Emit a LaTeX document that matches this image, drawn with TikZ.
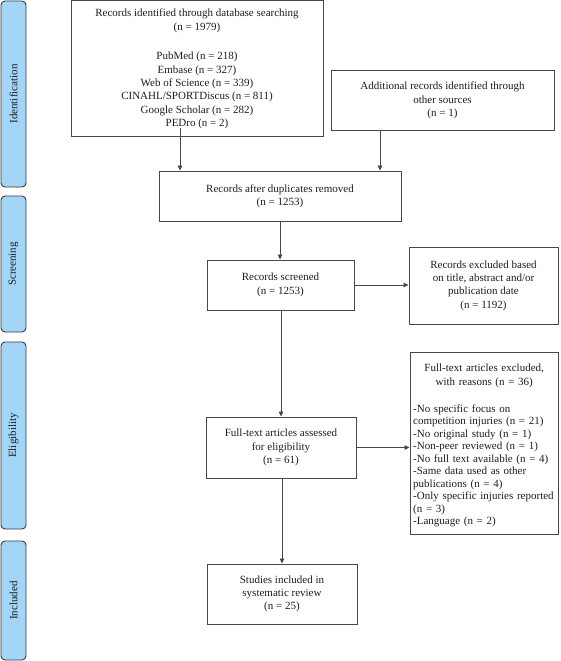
\documentclass[tikz,border=0pt]{standalone}
\usepackage{fontspec}
\setmainfont{Liberation Serif}
\usetikzlibrary{arrows.meta,calc}
\definecolor{linec}{HTML}{474747}
\definecolor{barfill}{HTML}{A3D5F7}
\definecolor{barline}{HTML}{3A3A3A}
\definecolor{textc}{HTML}{1E1E1E}
\begin{document}
\begin{tikzpicture}[x=1pt,y=-1pt,
  box/.style={draw=linec,line width=1pt,inner sep=0pt,align=center,text=textc,
    font=\fontsize{11}{13.3}\selectfont},
  listtext/.style={inner sep=0pt,align=left,text=textc,text width=142pt,
    font=\fontsize{11}{12.5}\selectfont},
  bar/.style={draw=barline,line width=0.9pt,fill=barfill,rounded corners=4pt,
    inner sep=0pt,text=textc,font=\fontsize{11}{13}\selectfont},
  arr/.style={draw=linec,line width=0.8pt,-{Triangle[length=5pt,width=4.5pt]}}]
\path[use as bounding box,fill=white] (0,0) rectangle (560,661);

% phase bars
\node[bar,rotate=90,minimum width=186pt,minimum height=25pt] (sid) at (13.5,94) {Identification};
\node[bar,rotate=90,minimum width=136pt,minimum height=25pt] (sscr) at (13.5,264) {Screening};
\node[bar,rotate=90,minimum width=187pt,minimum height=25pt] (sel) at (13.5,435.5) {Eligibility};
\node[bar,rotate=90,minimum width=119pt,minimum height=25pt] (sinc) at (13.5,600.5) {Included};

% boxes
\node[box,minimum width=252pt,minimum height=135pt] (b1) at (197,68.5)
  {Records identified through database searching\\[1.5pt](n = 1979)\\[15.8pt]
   PubMed (n = 218)\\Embase (n = 327)\\Web of Science (n = 339)\\
   CINAHL/SPORTDiscus (n = 811)\\Google Scholar (n = 282)\\PEDro (n = 2)};
\node[box,minimum width=223pt,minimum height=59pt] (b2) at (442.5,100.5)
  {Additional records identified through\\other sources\\(n = 1)};
\node[box,minimum width=242pt,minimum height=50pt] (b3) at (280,196)
  {Records after duplicates removed\\(n = 1253)};
\node[box,minimum width=147pt,minimum height=50pt] (b4) at (280.5,285)
  {Records screened\\(n = 1253)};
\node[box,minimum width=149pt,minimum height=77pt] (b5) at (483.5,285.5)
  {Records excluded based\\on title, abstract and/or\\publication date\\(n = 1192)};
\node[box,minimum width=148pt,minimum height=182pt] (b6) at (484,443) {};
\node[listtext,anchor=north west] (b6t) at (413,363.5)
  {\makebox[142pt]{Full-text articles excluded,}\\[1.5pt]
   \makebox[142pt]{with reasons (n = 36)}\\[14.5pt]
   -No specific focus on\\
   competition injuries (n = 21)\\
   -No original study (n = 1)\\
   -Non-peer reviewed (n = 1)\\
   -No full text available (n = 4)\\
   -Same data used as other\\
   publications (n = 4)\\
   -Only specific injuries reported\\
   (n = 3)\\
   -Language (n = 2)};
\node[box,minimum width=150pt,minimum height=61pt] (b7) at (281,447.5)
  {Full-text articles assessed\\for eligibility\\(n = 61)};
\node[box,minimum width=150pt,minimum height=60pt] (b8) at (282,594)
  {Studies included in\\systematic review\\(n = 25)};

% connector columns
\coordinate (c1) at (180,0);
\coordinate (c2) at (380,0);
\coordinate (c3) at (281,0);
\coordinate (c4) at (282,0);

\draw[arr] ($(b1.south -| c1)+(0,-9)$) -- (b3.north -| c1);
\draw[arr] (b2.south -| c2) -- (b3.north -| c2);
\draw[arr] (b3.south) -- (b3.south |- b4.north);
\draw[arr] (b4.east) -- (b4.east -| b5.west);
\draw[arr] (b4.south -| c3) -- (b7.north -| c3);
\draw[arr] (b7.east) -- (b7.east -| b6.west);
\draw[arr] (b7.south -| c4) -- (b8.north -| c4);
\end{tikzpicture}
\end{document}
